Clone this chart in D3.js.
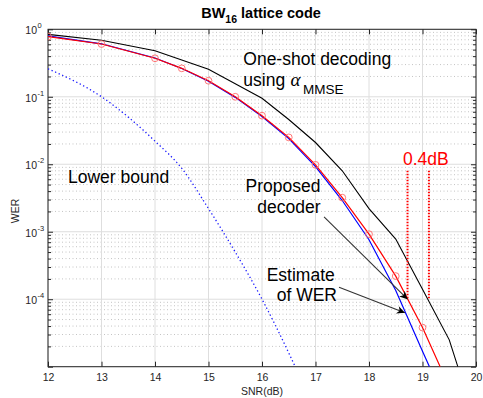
<!DOCTYPE html>
<html>
<head>
<meta charset="utf-8">
<script src="https://cdn.jsdelivr.net/npm/d3@7"></script>
<style>
  body { margin: 0; background: #fff; }
  svg { display: block; font-family: "Liberation Sans", Arial, sans-serif; }
</style>
</head>
<body>
<script>
  // one-shot decoding using alpha_MMSE (black)
  let oneShotSnr = [12, 13, 14, 15, 16, 16.5, 17, 17.5, 18, 18.5, 19, 19.5, 19.66];
  let oneShotWer = [0.84, 0.69, 0.48, 0.255, 0.095, 0.046, 0.021, 0.008, 0.0022, 7.8e-4, 1.4e-4, 2.5e-5, 1e-5];

  // proposed decoder (red, circles)
  let proposedSnr = [12, 13, 14, 14.5, 15, 15.5, 16, 16.5, 17, 17.5, 18, 18.5, 19, 19.33];
  let proposedWer = [0.78, 0.605, 0.372, 0.264, 0.173, 0.1, 0.0525, 0.025, 0.0098, 0.0032, 9.2e-4, 2.2e-4, 3.8e-5, 1e-5];
  let markerCount = 13;

  // estimate of WER (blue)
  let estimateSnr = [12, 13, 14, 14.5, 15, 15.5, 16, 16.5, 17, 17.5, 18, 18.5, 19, 19.13];
  let estimateWer = [0.8, 0.61, 0.375, 0.262, 0.17, 0.098, 0.051, 0.024, 0.0092, 0.0029, 7.6e-4, 1.35e-4, 1.7e-5, 1e-5];

  // lower bound (blue dotted)
  let boundSnr = [12, 13, 14, 14.5, 15, 15.5, 16, 16.5, 16.62];
  let boundWer = [0.26, 0.1, 0.022, 0.0087, 0.0022, 5e-4, 1e-4, 1.6e-5, 1e-5];

  // ticks
  let xTicks = [12, 13, 14, 15, 16, 17, 18, 19, 20];
  let yExps = [0, -1, -2, -3, -4];

  // 0.4 dB gap markers and arrows, in data units
  let gapSnr = [18.72, 19.12];
  let gapWer = [8e-3, 1e-4];
  let arrowFrom = [[17.16, 1.66e-3], [17.44, 1.5e-4]];
  let arrowTo = [[18.72, 1e-4], [18.67, 6.3e-5]];

  (function() {
    let svg = d3.select("body").append("svg")
      .attr("width", 483)
      .attr("height", 398);

    let left = 48, right = 476, top = 29.3, bottom = 366.7;

    let x = d3.scaleLinear().domain([12, 20]).range([left, right]);
    let y = d3.scaleLog().domain([1e-5, 1]).range([bottom, top]);

    let majorY = yExps.map((e) => Math.pow(10, e)).concat([1e-5]);
    let minorY = [];
    for (let e = -5; e < 0; e++) {
      for (let m = 2; m <= 9; m++) minorY.push(m * Math.pow(10, e));
    }

    // grid
    let grid = svg.append("g");
    grid.selectAll(".minor")
      .data(minorY)
      .enter()
      .append("line")
        .attr("x1", left).attr("x2", right)
        .attr("y1", (d) => y(d)).attr("y2", (d) => y(d))
        .attr("stroke", "#c4c4c4")
        .attr("stroke-dasharray", "1,2.5");
    grid.selectAll(".majy")
      .data(majorY)
      .enter()
      .append("line")
        .attr("x1", left).attr("x2", right)
        .attr("y1", (d) => y(d)).attr("y2", (d) => y(d))
        .attr("stroke", "#dedede");
    grid.selectAll(".majx")
      .data(xTicks)
      .enter()
      .append("line")
        .attr("x1", (d) => x(d)).attr("x2", (d) => x(d))
        .attr("y1", top).attr("y2", bottom)
        .attr("stroke", "#dedede");

    // axes (ticks inside)
    function styleAxis(g) {
      g.select(".domain").remove();
      g.selectAll(".tick line").attr("stroke", "#262626");
    }
    svg.append("g").attr("transform", `translate(0,${bottom})`)
      .call(d3.axisBottom(x).tickValues(xTicks).tickSize(-5).tickPadding(7).tickFormat(d3.format("d")))
      .call(styleAxis)
      .selectAll("text")
        .attr("fill", "#262626")
        .style("font-size", "10.5px")
        .style("font-family", "'Liberation Sans', Arial, sans-serif");
    svg.append("g").attr("transform", `translate(0,${top})`)
      .call(d3.axisTop(x).tickValues(xTicks).tickSize(-5).tickFormat(""))
      .call(styleAxis);
    svg.append("g").attr("transform", `translate(${left},0)`)
      .call(d3.axisLeft(y).tickValues(majorY).tickSize(-5).tickFormat(""))
      .call(styleAxis);
    svg.append("g").attr("transform", `translate(${left},0)`)
      .call(d3.axisLeft(y).tickValues(minorY).tickSize(-3).tickFormat(""))
      .call(styleAxis);
    svg.append("g").attr("transform", `translate(${right},0)`)
      .call(d3.axisRight(y).tickValues(majorY).tickSize(-5).tickFormat(""))
      .call(styleAxis);
    svg.append("g").attr("transform", `translate(${right},0)`)
      .call(d3.axisRight(y).tickValues(minorY).tickSize(-3).tickFormat(""))
      .call(styleAxis);

    // y tick labels 10^e
    svg.selectAll(".ylab")
      .data(yExps)
      .enter()
      .append("text")
        .attr("x", 37)
        .attr("y", (d) => y(Math.pow(10, d)) + 5)
        .attr("text-anchor", "end")
        .attr("fill", "#262626")
        .style("font-size", "10.5px")
        .text("10");
    svg.selectAll(".yexp")
      .data(yExps)
      .enter()
      .append("text")
        .attr("x", 37.5)
        .attr("y", (d) => y(Math.pow(10, d)) - 1)
        .attr("fill", "#262626")
        .style("font-size", "7.5px")
        .text((d) => d === 0 ? "0" : "-" + Math.abs(d));

    // frame
    svg.append("rect")
      .attr("x", left).attr("y", top)
      .attr("width", right - left).attr("height", bottom - top)
      .attr("fill", "none")
      .attr("stroke", "#262626")
      .attr("stroke-width", 1);

    // curves
    svg.append("clipPath").attr("id", "clip")
      .append("rect")
        .attr("x", left).attr("y", top)
        .attr("width", right - left).attr("height", bottom - top);

    let line = d3.line()
      .x((d) => x(d[0]))
      .y((d) => y(d[1]));

    let smoothLine = d3.line()
      .x((d) => x(d[0]))
      .y((d) => y(d[1]))
      .curve(d3.curveMonotoneX);

    function zipSeries(a, b) { return a.map((v, i) => [v, b[i]]); }

    let plot = svg.append("g").attr("clip-path", "url(#clip)");

    plot.append("path")
      .datum(zipSeries(boundSnr, boundWer))
      .attr("d", smoothLine)
      .attr("fill", "none")
      .attr("stroke", "#1a1aff")
      .attr("stroke-width", 1.3)
      .attr("stroke-dasharray", "1.3,2.6");

    plot.append("path")
      .datum(zipSeries(oneShotSnr, oneShotWer))
      .attr("d", line)
      .attr("fill", "none")
      .attr("stroke", "#000")
      .attr("stroke-width", 1.1);

    plot.append("path")
      .datum(zipSeries(estimateSnr, estimateWer))
      .attr("d", line)
      .attr("fill", "none")
      .attr("stroke", "#0000ff")
      .attr("stroke-width", 1.2);

    plot.append("path")
      .datum(zipSeries(proposedSnr, proposedWer))
      .attr("d", line)
      .attr("fill", "none")
      .attr("stroke", "#ff0000")
      .attr("stroke-width", 1.2);

    plot.selectAll(".mk")
      .data(zipSeries(proposedSnr, proposedWer).slice(0, markerCount))
      .enter()
      .append("circle")
        .attr("cx", (d) => x(d[0]))
        .attr("cy", (d) => y(d[1]))
        .attr("r", 3.4)
        .attr("fill", "none")
        .attr("stroke", "#ff6a6a")
        .attr("stroke-width", 0.9);

    // 0.4 dB gap lines
    svg.selectAll(".gap")
      .data(gapSnr)
      .enter()
      .append("line")
        .attr("x1", (d) => x(d)).attr("x2", (d) => x(d))
        .attr("y1", y(gapWer[0])).attr("y2", y(gapWer[1]))
        .attr("stroke", "#ff0000")
        .attr("stroke-width", 2)
        .attr("stroke-dasharray", "1.5,1.5");

    // arrows
    svg.append("defs").append("marker")
      .attr("id", "head")
      .attr("viewBox", "0 0 10 10")
      .attr("refX", 10).attr("refY", 5)
      .attr("markerWidth", 11).attr("markerHeight", 8)
      .attr("markerUnits", "userSpaceOnUse")
      .attr("orient", "auto")
      .append("path")
        .attr("d", "M0,0 L10,5 L0,10 L3,5 Z")
        .attr("fill", "#000");

    svg.selectAll(".arrow")
      .data(arrowFrom)
      .enter()
      .append("line")
        .attr("x1", (d) => x(d[0])).attr("y1", (d) => y(d[1]))
        .attr("x2", (d, i) => x(arrowTo[i][0])).attr("y2", (d, i) => y(arrowTo[i][1]))
        .attr("stroke", "#333")
        .attr("stroke-width", 1.1)
        .attr("marker-end", "url(#head)");

    // labels
    function label(tx, ty, str, opts) {
      let t = svg.append("text")
        .attr("x", tx).attr("y", ty)
        .attr("fill", (opts && opts.fill) || "#000")
        .style("font-size", (opts && opts.size) || "17.5px")
        .text(str);
      if (opts && opts.anchor) t.attr("text-anchor", opts.anchor);
      return t;
    }

    label(243.3, 65, "One-shot decoding");
    label(243.3, 86, "using");
    label(290.5, 86, "\u03b1", { size: "19px" })
      .style("font-family", "'Liberation Serif', 'Times New Roman', serif")
      .style("font-style", "italic");
    label(303, 93.5, "MMSE", { size: "13.5px" });
    label(68, 183, "Lower bound");
    label(320.5, 191.7, "Proposed", { anchor: "end" });
    label(320.5, 213.3, "decoder", { anchor: "end" });
    label(266.7, 280.7, "Estimate");
    label(276.7, 300.5, "of WER");
    label(403, 165, "0.4dB", { fill: "#ff0000" });

    // title
    let title = svg.append("text")
      .attr("x", 261).attr("y", 17.5)
      .attr("text-anchor", "middle")
      .attr("fill", "#000")
      .style("font-size", "14.5px")
      .style("font-weight", "bold");
    title.append("tspan").text("BW");
    title.append("tspan").attr("dy", 5).style("font-size", "10.5px").text("16");
    title.append("tspan").attr("dy", -5).text(" lattice code");

    // axis titles
    svg.append("text")
      .attr("x", 262).attr("y", 395)
      .attr("text-anchor", "middle")
      .attr("fill", "#262626")
      .style("font-size", "10.5px")
      .text("SNR(dB)");

    svg.append("text")
      .attr("transform", "translate(19.3, 211)rotate(-90)")
      .attr("text-anchor", "middle")
      .attr("fill", "#262626")
      .style("font-size", "10.5px")
      .text("WER");
  })();
</script>
</body>
</html>
